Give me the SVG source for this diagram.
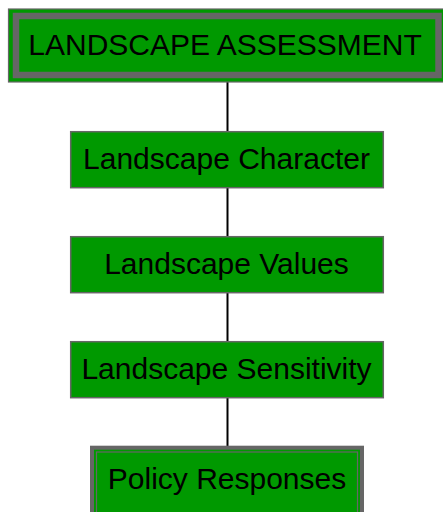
<svg xmlns="http://www.w3.org/2000/svg" width="443" height="512" viewBox="0 0 443 512">
<style>
.box{fill:#009900;stroke:#666666;stroke-width:1.5}
.lbl{font-family:"Liberation Sans",Arial,sans-serif;font-size:30px;fill:#000;text-anchor:middle}
.conn{stroke:#000;stroke-width:2;fill:none}
</style>
<rect width="443" height="512" fill="#ffffff"/>
<g id="connectors">
<line class="conn" x1="227.5" y1="82" x2="227.5" y2="132"/>
<line class="conn" x1="227.5" y1="187" x2="227.5" y2="237"/>
<line class="conn" x1="227.5" y1="292" x2="227.5" y2="342"/>
<line class="conn" x1="227.5" y1="397" x2="227.5" y2="447"/>
</g>
<g id="n_assessment">
<rect x="8.5" y="9" width="438" height="73" fill="#009900" stroke="#666666" stroke-width="1.2"/>
<rect x="16" y="16" width="422.5" height="59" fill="none" stroke="#666666" stroke-width="6.5"/>
<text class="lbl" x="225" y="54.5">LANDSCAPE ASSESSMENT</text>
</g>
<g id="n_character">
<rect class="box" x="70.7" y="131.7" width="312.6" height="56"/>
<text class="lbl" x="226.5" y="169.3">Landscape Character</text>
</g>
<g id="n_values">
<rect class="box" x="70.7" y="236.7" width="312.6" height="56"/>
<text class="lbl" x="226.5" y="274.3">Landscape Values</text>
</g>
<g id="n_sensitivity">
<rect class="box" x="70.7" y="341.7" width="312.6" height="56"/>
<text class="lbl" x="226.5" y="379.3">Landscape Sensitivity</text>
</g>
<g id="n_policy">
<rect x="92" y="447.7" width="270" height="70" fill="#009900" stroke="#666666" stroke-width="4"/>
<rect x="96.5" y="452" width="261" height="62" fill="none" stroke="#666666" stroke-width="1.2"/>
<text class="lbl" x="227" y="489.3">Policy Responses</text>
</g>
</svg>
